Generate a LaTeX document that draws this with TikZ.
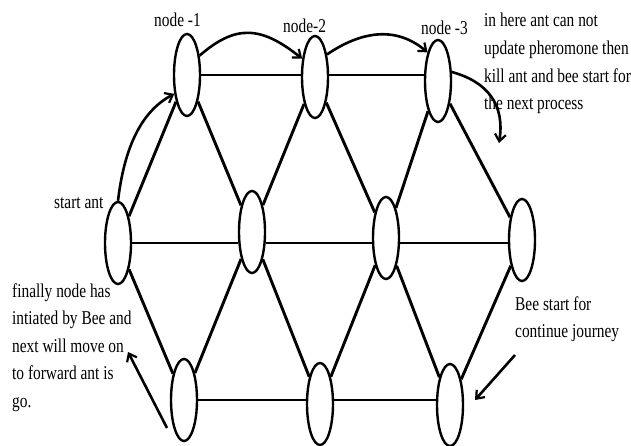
\documentclass[tikz,border=0pt]{standalone}
\usepackage{fontspec}
\setmainfont{Liberation Serif}
\usepackage{graphicx}
\usetikzlibrary{shapes.geometric,arrows.meta}
\newcommand{\tallnote}[1]{\scalebox{1}[1.27]{\begin{tabular}[t]{@{}l@{}}#1\end{tabular}}}
\begin{document}
\begin{tikzpicture}[x=1pt,y=-1pt,
  city/.style={draw,ellipse,line width=2.4pt,minimum width=26pt,minimum height=82pt,inner sep=0pt},
  road/.style={line width=2.9pt},
  walk/.style={line width=2.6pt,-{Straight Barb[length=7pt,width=11pt,line width=2.2pt]}},
  note/.style={anchor=base west,inner sep=0pt,font=\fontsize{15.4}{21.7}\selectfont}]
\useasboundingbox (0,0) rectangle (631,446);

\node(n1) at (187,75) [city]{};
\node(n2) at (315,77) [city]{};
\node(n3) at (438,81) [city]{};
\node(m1) at (118,243) [city]{};
\node(m2) at (252,232) [city]{};
\node(m3) at (386,238) [city]{};
\node(m4) at (522,240) [city]{};
\node(b1) at (184,400) [city]{};
\node(b2) at (320,404) [city]{};
\node(b3) at (450,405) [city]{};

\node(lab1) at (154,27) [note]{\tallnote{node -1}};
\node(lab2) at (283,33) [note]{\tallnote{node-2}};
\node(lab3) at (421,35) [note]{\tallnote{node -3}};
\node(start) at (54,209) [note]{\tallnote{start ant}};
\node(kill) at (484,27) [note]{\tallnote{in here ant can not\\update pheromone then\\kill ant and bee start for\\the next process}};
\node(final) at (12,297) [note]{\tallnote{finally node has\\intiated by Bee and\\next will move on\\to forward ant is\\go.}};
\node(bee) at (515,310) [note]{\tallnote{Bee start for\\continue journey}};

\draw [road] (n1) -- (n1 -| n2.west);
\draw [road] (n2.east |- n1) -- (n1 -| n3.west);
\draw [road] (m1) -- (m1 -| m2.west);
\draw [road] (m2.east |- m1) -- (m1 -| m3.west);
\draw [road] (m3.east |- m1) -- (m1 -| m4.west);
\draw [road] (b1) -- (b1 -| b2.west);
\draw [road] (b2.east |- b1) -- (b1 -| b3.west);

\draw [road] (m1) -- (n1);
\draw [road] (n1) -- (m2);
\draw [road] (m2) -- (n2);
\draw [road] (n2) -- (m3);
\draw [road] (m3) -- (n3);
\draw [road] (n3) -- (m4);
\draw [road] (m1) -- (b1);
\draw [road] (b1) -- (m2);
\draw [road] (m2) -- (b2);
\draw [road] (b2) -- (m3);
\draw [road] (m3) -- (b3);
\draw [road] (b3) -- (m4);

\coordinate(drop) at (499,143);
\coordinate(backfrom) at (167,428);
\coordinate(backto) at (128,352);
\coordinate(beefrom) at (515,355);
\coordinate(beeto) at (475,400);

\draw [walk] (m1.north) .. controls (124,150) and (140,112) .. (n1.236);
\draw [walk] (n1.57) .. controls (235,25) and (260,25) .. (n2.125);
\draw [walk] (n2.62) .. controls (360,32) and (395,25) .. (n3.110);
\draw [walk] (n3.33) .. controls (488,82) and (505,105) .. (drop);
\draw [walk] (backfrom) -- (backto);
\draw [walk] (beefrom) -- (beeto);
\end{tikzpicture}
\end{document}
